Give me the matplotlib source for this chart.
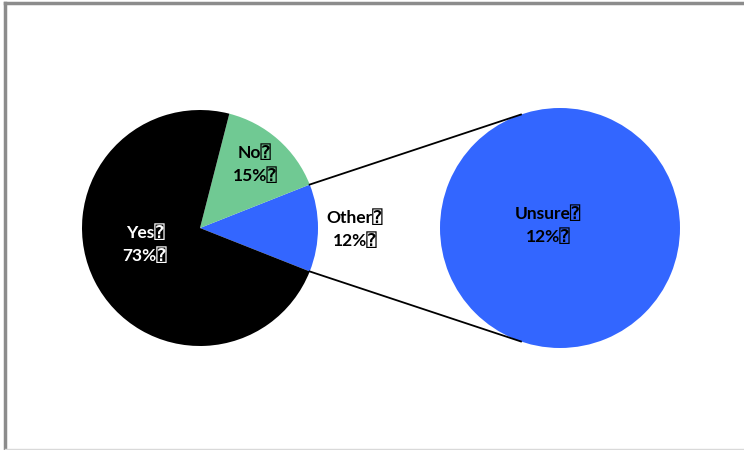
import matplotlib
matplotlib.use("Agg")
import matplotlib.pyplot as plt
import numpy as np
from matplotlib.lines import Line2D

# Data
main_labels = ["Other", "No", "Yes"]
main_values = [12, 15, 73]
main_colors = ["#3366ff", "#70c993", "#000000"]
sub_labels = ["Unsure"]
sub_values = [12]
sub_colors = ["#3366ff"]

BOX = "\u2370"
FAM = ["Lato", "DejaVu Sans Mono", "DejaVu Sans"]

W, H = 744, 450
fig = plt.figure(figsize=(W / 100, H / 100), dpi=100)
ax = fig.add_axes([0, 0, 1, 1])

c1 = (200, H - 228)
r1 = 118
c2 = (560, H - 228)
r2 = 120

total = sum(main_values)
other_angle = 360 * main_values[0] / total
start = -other_angle / 2
wedges, _ = ax.pie(main_values, colors=main_colors, startangle=start,
                   counterclock=True, center=c1, radius=r1, frame=True,
                   wedgeprops=dict(linewidth=0))
ax.pie(sub_values, colors=sub_colors, startangle=90, center=c2, radius=r2,
       frame=True, wedgeprops=dict(linewidth=0))
ax.set_xlim(0, W)
ax.set_ylim(0, H)
ax.set_aspect("equal")
ax.axis("off")

# connection lines
a_top = np.deg2rad(start + other_angle)
a_bot = np.deg2rad(start)
p1 = (c1[0] + r1 * np.cos(a_top), c1[1] + r1 * np.sin(a_top))
p2 = (c1[0] + r1 * np.cos(a_bot), c1[1] + r1 * np.sin(a_bot))
t = np.deg2rad(109)
q1 = (c2[0] + r2 * np.cos(t), c2[1] + r2 * np.sin(t))
q2 = (c2[0] + r2 * np.cos(-t), c2[1] + r2 * np.sin(-t))
ax.plot([p1[0], q1[0]], [p1[1], q1[1]], color="black", lw=1.3)
ax.plot([p2[0], q2[0]], [p2[1], q2[1]], color="black", lw=1.3)

fs = 12.5
kw = dict(ha="center", va="center", fontsize=fs, fontweight="bold",
          family=FAM, linespacing=1.45)
ax.text(255, H - 164, f"{main_labels[1]}{BOX}\n{main_values[1]}%{BOX}", color="black", **kw)
ax.text(145, H - 244, f"{main_labels[2]}{BOX}\n{main_values[2]}%{BOX}", color="white", **kw)
ax.text(355, H - 229, f"{main_labels[0]}{BOX}\n{main_values[0]}%{BOX}", color="black", **kw)
ax.text(548, H - 225, f"{sub_labels[0]}{BOX}\n{sub_values[0]}%{BOX}", color="black", **kw)

# border
fig.add_artist(Line2D([5 / W, 1], [1 - 3 / H, 1 - 3 / H], color="#8c8c8c", lw=2.5))
fig.add_artist(Line2D([5 / W, 5 / W], [1 / H, 1 - 3 / H], color="#8c8c8c", lw=2.5))
fig.add_artist(Line2D([5 / W, 1], [1.5 / H, 1.5 / H], color="#d9d9d9", lw=1))

fig.savefig("out.png", dpi=100)
